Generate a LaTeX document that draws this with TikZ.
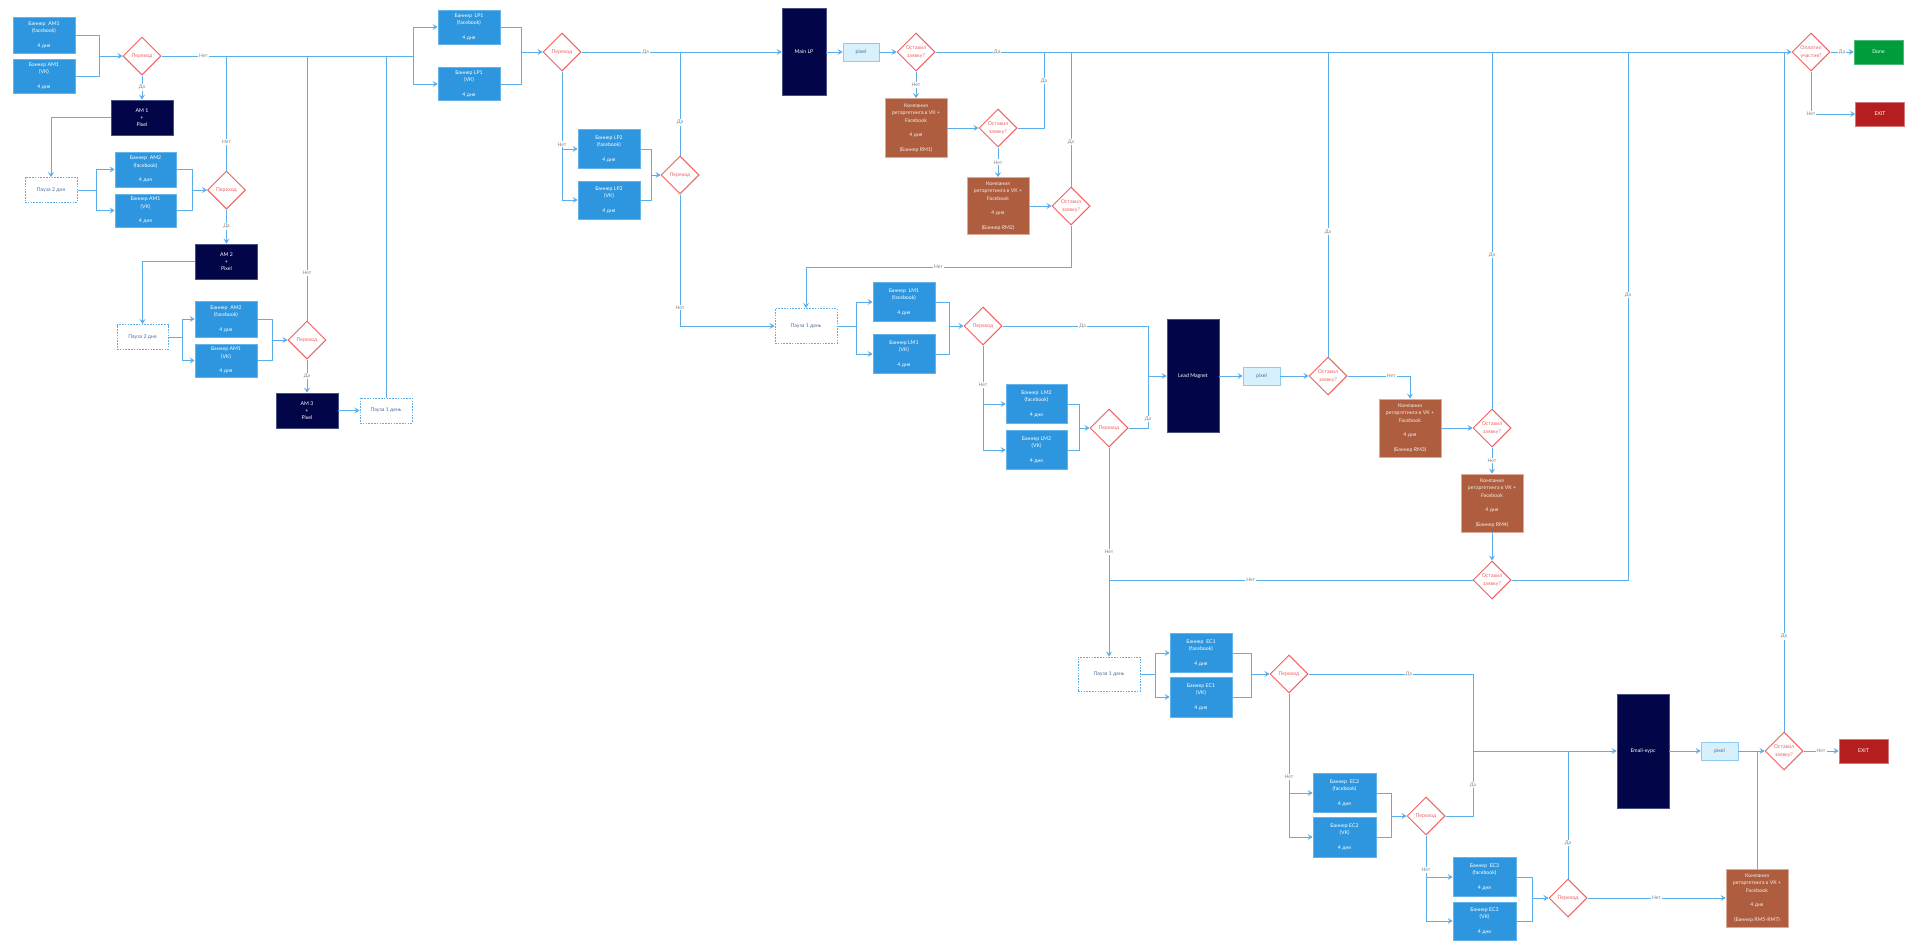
\documentclass[tikz,border=0pt]{standalone}
\usepackage{fontspec}
\setmainfont{Lato}
\usetikzlibrary{shapes.geometric,arrows.meta}
\definecolor{ln}{RGB}{92,174,234}
\definecolor{bnr}{RGB}{45,150,222}
\definecolor{bnrb}{RGB}{100,180,236}
\definecolor{navy}{RGB}{2,6,72}
\definecolor{navyb}{RGB}{70,80,130}
\definecolor{brn}{RGB}{174,94,62}
\definecolor{brnb}{RGB}{220,170,150}
\definecolor{dred}{RGB}{240,96,96}
\definecolor{pixf}{RGB}{216,239,252}
\definecolor{pixb}{RGB}{140,203,242}
\definecolor{pixt}{RGB}{70,110,150}
\definecolor{pauset}{RGB}{80,110,150}
\definecolor{lblgray}{RGB}{130,130,130}
\definecolor{donec}{RGB}{0,155,58}
\definecolor{exitc}{RGB}{180,30,30}
\tikzset{
  box/.style={rectangle, inner sep=1pt, align=center, minimum width=62pt},
  banner/.style={box, fill=bnr, draw=bnrb, line width=0.8pt, text=white},
  dark/.style={box, fill=navy, draw=navyb, line width=0.8pt, text=white},
  rmbox/.style={box, fill=brn, draw=brnb, line width=0.8pt, text=white!88!brn},
  pause/.style={box, draw=ln, dash pattern=on 1.6pt off 1.2pt, line width=1pt, fill=white, text=pauset},
  pix/.style={box, fill=pixf, draw=pixb, line width=0.8pt, text=pixt, minimum width=37pt, minimum height=18pt},
  dec/.style={diamond, draw=dred, line width=1pt, fill=white, text=dred, align=center, minimum width=38pt, minimum height=38pt, inner sep=0pt, aspect=1},
  endbox/.style={box, minimum width=49pt, minimum height=24pt, text=white, line width=0.8pt},
  lbl/.style={fill=white, text=lblgray, inner sep=1pt, font=\fontsize{5}{6}\selectfont},
  conn/.style={draw=ln, line width=1pt},
  arr/.style={conn, -{Stealth[length=5pt,width=6pt,inset=2pt]}}
}
\begin{document}
\begin{tikzpicture}[x=1pt,y=-1pt,font=\fontsize{5.2}{7.3}\selectfont]
\fill[white] (0,0) rectangle (1905,940);
\useasboundingbox (0,0) rectangle (1905,940);

% ---------- AM part ----------
\node[banner, minimum height=36pt] (am1fb) at (44,35) {Баннер~~AM1\\(facebook)\\[7.3pt]4 дня};
\node[banner, minimum height=34pt] (am1vk) at (44,76) {Баннер AM1\\(VK)\\[7.3pt]4 дня};
\node[dec] (d1) at (142,56) {Переход};
\node[dark, minimum height=35pt] (am1) at (142,117.5) {AM 1\\+\\Pixel};
\node[pause, minimum width=52pt, minimum height=25pt] (p1) at (51,190) {Пауза 2 дня};
\node[banner, minimum width=61pt, minimum height=35pt] (am2fb) at (145.5,169.5) {Баннер~~AM2\\(facebook)\\[7.3pt]4 дня};
\node[banner, minimum width=61pt, minimum height=33pt] (am2vk) at (145.5,210.5) {Баннер AM1\\(VK)\\[7.3pt]4 дня};
\node[dec] (d2) at (226.5,190) {Переход};
\node[dark, minimum height=35pt] (am2) at (226.5,261.5) {AM 2\\+\\Pixel};
\node[pause, minimum width=51pt, minimum height=25pt] (p2) at (142.5,337) {Пауза 2 дня};
\node[banner, minimum height=36pt] (am3fb) at (226,319) {Баннер~~AM2\\(facebook)\\[7.3pt]4 дня};
\node[banner, minimum height=33pt] (am3vk) at (226,360.5) {Баннер AM1\\(VK)\\[7.3pt]4 дня};
\node[dec] (d3) at (307,340) {Переход};
\node[dark, minimum height=35pt] (am3) at (307,410.5) {AM 3\\+\\Pixel};
\node[pause, minimum width=52pt, minimum height=25pt] (p3) at (386,410.5) {Пауза 1 день};

% ---------- LP part ----------
\node[banner, minimum height=34pt] (lp1fb) at (469,27) {Баннер~~LP1\\(facebook)\\[7.3pt]4 дня};
\node[banner, minimum height=33pt] (lp1vk) at (469,84) {Баннер LP1\\(VK)\\[7.3pt]4 дня};
\node[dec] (dlp1) at (562,52) {Переход};
\node[banner, minimum height=39pt] (lp2fb) at (609,149) {Баннер LP2\\(facebook)\\[7.3pt]4 дня};
\node[banner, minimum height=38pt] (lp2vk) at (609,200) {Баннер LP2\\(VK)\\[7.3pt]4 дня};
\node[dec] (dlp2) at (680,175) {Переход};
\node[dark, minimum width=44pt, minimum height=87pt] (mainlp) at (804,52) {Main LP};
\node[pix, minimum width=36pt] (px1) at (861,52) {pixel};
\node[dec] (o1) at (916,52) {Оставил\\заявку?};
\node[rmbox, minimum height=59pt] (rm1) at (916,128) {Компания\\ретаргетинга в VK +\\Facebook\\[7.3pt]4 дня\\[7.3pt](Баннер RM1)};
\node[dec] (o2) at (998,128) {Оставил\\заявку?};
\node[rmbox, minimum height=57pt] (rm2) at (998,206) {Компания\\ретаргетинга в VK +\\Facebook\\[7.3pt]4 дня\\[7.3pt](Баннер RM2)};
\node[dec] (o3) at (1071,206) {Оставил\\заявку?};

% ---------- LM part ----------
\node[pause, minimum width=62pt, minimum height=35pt] (plm) at (806,326) {Пауза 1 день};
\node[banner, minimum height=39pt] (lm1fb) at (904,302) {Баннер~~LM1\\(facebook)\\[7.3pt]4 дня};
\node[banner, minimum height=39pt] (lm1vk) at (904,354) {Баннер LM1\\(VK)\\[7.3pt]4 дня};
\node[dec] (dlm1) at (983,326) {Переход};
\node[banner, minimum width=61pt, minimum height=39pt] (lm2fb) at (1036.5,404) {Баннер~~LM2\\(facebook)\\[7.3pt]4 дня};
\node[banner, minimum width=61pt, minimum height=39pt] (lm2vk) at (1036.5,450) {Баннер LM2\\(VK)\\[7.3pt]4 дня};
\node[dec] (dlm2) at (1109,428) {Переход};
\node[dark, minimum width=52pt, minimum height=113pt] (lm) at (1193,376) {Lead Magnet};
\node[pix] (px2) at (1261.5,376) {pixel};
\node[dec] (o4) at (1328,376) {Оставил\\заявку?};
\node[rmbox, minimum height=58pt] (rm3) at (1410,428) {Компания\\ретаргетинга в VK +\\Facebook\\[7.3pt]4 дня\\[7.3pt](Баннер RM3)};
\node[dec] (o5) at (1492,428) {Оставил\\заявку?};
\node[rmbox, minimum height=58pt] (rm4) at (1492,503) {Компания\\ретаргетинга в VK +\\Facebook\\[7.3pt]4 дня\\[7.3pt](Баннер RM4)};
\node[dec] (o6) at (1492,580) {Оставил\\заявку?};

% ---------- final ----------
\node[dec] (dpay) at (1811,52) {Оплатил\\участие?};
\node[endbox, fill=donec, draw=donec!70!white] (done) at (1878.5,52) {Done};
\node[endbox, fill=exitc, draw=exitc!60!white] (exit1) at (1880,114) {EXIT};

% ---------- EC part ----------
\node[pause, minimum width=62pt, minimum height=34pt] (pec) at (1109,674) {Пауза 1 день};
\node[banner, minimum height=39pt] (ec1fb) at (1201,653) {Баннер~~EC1\\(facebook)\\[7.3pt]4 дня};
\node[banner, minimum height=40pt] (ec1vk) at (1201,697) {Баннер EC1\\(VK)\\[7.3pt]4 дня};
\node[dec] (dec1) at (1289,674) {Переход};
\node[banner, minimum width=63pt, minimum height=39pt] (ec2fb) at (1344.5,793) {Баннер~~EC2\\(facebook)\\[7.3pt]4 дня};
\node[banner, minimum width=63pt, minimum height=40pt] (ec2vk) at (1344.5,837) {Баннер EC2\\(VK)\\[7.3pt]4 дня};
\node[dec] (dec2) at (1426,816) {Переход};
\node[banner, minimum width=63pt, minimum height=39pt] (ec3fb) at (1484.5,877) {Баннер~~EC3\\(facebook)\\[7.3pt]4 дня};
\node[banner, minimum width=63pt, minimum height=38pt] (ec3vk) at (1484.5,921) {Баннер EC3\\(VK)\\[7.3pt]4 дня};
\node[dec] (dec3) at (1568,898) {Переход};
\node[rmbox, minimum height=58pt] (rm5) at (1757,898) {Компания\\ретаргетинга в VK +\\Facebook\\[7.3pt]4 дня\\[7.3pt](Баннер RM5-RM7)};
\node[dark, minimum width=52pt, minimum height=114pt] (email) at (1643,751) {Email-курс};
\node[pix] (px3) at (1719.5,751) {pixel};
\node[dec] (o7) at (1784,751) {Оставил\\заявку?};
\node[endbox, fill=exitc, draw=exitc!60!white] (exit2) at (1863.5,751) {EXIT};

% ---------- junctions ----------
\coordinate (j1) at (99,56);
\coordinate (s1) at (413,56);
\coordinate (j2) at (96,190);
\coordinate (j3) at (192,190);
\coordinate (j4) at (182,337);
\coordinate (j5) at (272,340);
\coordinate (j6) at (521,52);
\coordinate (j7) at (651,175);
\coordinate (k1) at (1044,52);
\coordinate (k2) at (1071,267);
\coordinate (j8) at (856,326);
\coordinate (j9) at (949,326);
\coordinate (k3) at (1148,326);
\coordinate (j10) at (1079,428);
\coordinate (k5) at (1628,52);
\coordinate (j11) at (1155,674);
\coordinate (j12) at (1251,674);
\coordinate (k6) at (1473,751);
\coordinate (j13) at (1391,816);
\coordinate (j14) at (1532,898);

% ---------- AM connectors ----------
\draw[conn] (am1fb.east) -| (j1);
\draw[conn] (am1vk.east) -| (j1);
\draw[arr] (j1) -- (d1.west);
\draw[arr] (d1.south) -- node[lbl]{Да} (am1.north);
\draw[conn] (d1.east) -- node[lbl,pos=0.167]{Нет} (s1);
\draw[arr] (s1) |- (lp1fb.west);
\draw[arr] (s1) |- (lp1vk.west);
\draw[arr] (am1.west) -| (p1.north);
\draw[conn] (p1.east) -- (j2);
\draw[arr] (j2) |- (am2fb.west);
\draw[arr] (j2) |- (am2vk.west);
\draw[conn] (am2fb.east) -| (j3);
\draw[conn] (am2vk.east) -| (j3);
\draw[arr] (j3) -- (d2.west);
\draw[conn] (d2.north) -- node[lbl,pos=0.25]{Нет} (d2.north |- s1);
\draw[arr] (d2.south) -- node[lbl]{Да} (am2.north);
\draw[arr] (am2.west) -| (p2.north);
\draw[conn] (p2.east) -- (j4);
\draw[arr] (j4) |- (am3fb.west);
\draw[arr] (j4) |- (am3vk.west);
\draw[conn] (am3fb.east) -| (j5);
\draw[conn] (am3vk.east) -| (j5);
\draw[arr] (j5) -- (d3.west);
\draw[conn] (d3.north) -- node[lbl,pos=0.18]{Нет} (d3.north |- s1);
\draw[arr] (d3.south) -- node[lbl]{Да} (am3.north);
\draw[arr] (am3.east) -- (p3.west);
\draw[conn] (p3.north) -- (p3.north |- s1);

% ---------- LP connectors ----------
\draw[conn] (lp1fb.east) -| (j6);
\draw[conn] (lp1vk.east) -| (j6);
\draw[arr] (j6) -- (dlp1.west);
\draw[arr] (dlp1.east) -- node[lbl,pos=0.32]{Да} (mainlp.west);
\draw[arr] (dlp1.south) |- (lp2fb.west);
\draw[arr] (dlp1.south) |- node[lbl,pos=0.283]{Нет} (lp2vk.west);
\draw[conn] (lp2fb.east) -| (j7);
\draw[conn] (lp2vk.east) -| (j7);
\draw[arr] (j7) -- (dlp2.west);
\draw[conn] (dlp2.north) -- node[lbl,pos=0.32]{Да} (dlp2.north |- dlp1.east);
\draw[arr] (dlp2.south) |- node[lbl,pos=0.43]{Нет} (plm.west);
\draw[arr] (mainlp.east) -- (px1.west);
\draw[arr] (px1.east) -- (o1.west);
\draw[arr] (o1.east) -- node[lbl,pos=0.072]{Да} (dpay.west);
\draw[arr] (o1.south) -- node[lbl]{Нет} (rm1.north);
\draw[arr] (rm1.east) -- (o2.west);
\draw[conn] (o2.east) -| node[lbl,pos=0.81]{Да} (k1);
\draw[arr] (o2.south) -- node[lbl]{Нет} (rm2.north);
\draw[arr] (rm2.east) -- (o3.west);
\draw[conn] (o3.north) -- node[lbl,pos=0.33]{Да} (o3.north |- o1.east);
\draw[arr] (o3.south) -- (k2) -| node[lbl,pos=0.25]{Нет} (plm.north);

% ---------- LM connectors ----------
\draw[conn] (plm.east) -- (j8);
\draw[arr] (j8) |- (lm1fb.west);
\draw[arr] (j8) |- (lm1vk.west);
\draw[conn] (lm1fb.east) -| (j9);
\draw[conn] (lm1vk.east) -| (j9);
\draw[arr] (j9) -- (dlm1.west);
\draw[arr] (dlm1.east) -- node[lbl,pos=0.55]{Да} (k3) |- (lm.west);
\draw[arr] (dlm1.south) |- (lm2fb.west);
\draw[arr] (dlm1.south) |- node[lbl,pos=0.19]{Нет} (lm2vk.west);
\draw[conn] (lm2fb.east) -| (j10);
\draw[conn] (lm2vk.east) -| (j10);
\draw[arr] (j10) -- (dlm2.west);
\draw[conn] (dlm2.east) -| node[lbl,pos=0.544]{Да} (k3);
\draw[arr] (dlm2.south) -- node[lbl,pos=0.5]{Нет} (pec.north);
\draw[arr] (lm.east) -- (px2.west);
\draw[arr] (px2.east) -- (o4.west);
\draw[conn] (o4.north) -- node[lbl,pos=0.41]{Да} (o4.north |- o1.east);
\draw[arr] (o4.east) -| node[lbl,pos=0.35]{Нет} (rm3.north);
\draw[arr] (rm3.east) -- (o5.west);
\draw[conn] (o5.north) -- node[lbl,pos=0.43]{Да} (o5.north |- o1.east);
\draw[arr] (o5.south) -- node[lbl]{Нет} (rm4.north);
\draw[arr] (rm4.south) -- (o6.north);
\draw[conn] (o6.west) -- node[lbl,pos=0.61]{Нет} (o6.west -| dlm2.south);
\draw[conn] (o6.east) -| node[lbl,pos=0.77]{Да} (k5);

% ---------- final connectors ----------
\draw[arr] (dpay.east) -- node[lbl]{Да} (done.west);
\draw[arr] (dpay.south) |- node[lbl,pos=0.5]{Нет} (exit1.west);

% ---------- EC connectors ----------
\draw[conn] (pec.east) -- (j11);
\draw[arr] (j11) |- (ec1fb.west);
\draw[arr] (j11) |- (ec1vk.west);
\draw[conn] (ec1fb.east) -| (j12);
\draw[conn] (ec1vk.east) -| (j12);
\draw[arr] (j12) -- (dec1.west);
\draw[conn] (dec1.east) -| node[lbl,pos=0.305]{Да} (k6);
\draw[arr] (k6) -- (email.west);
\draw[arr] (dec1.south) |- (ec2fb.west);
\draw[arr] (dec1.south) |- node[lbl,pos=0.29]{Нет} (ec2vk.west);
\draw[conn] (ec2fb.east) -| (j13);
\draw[conn] (ec2vk.east) -| (j13);
\draw[arr] (j13) -- (dec2.west);
\draw[conn] (dec2.east) -| node[lbl,pos=0.74]{Да} (k6);
\draw[arr] (dec2.south) |- (ec3fb.west);
\draw[arr] (dec2.south) |- node[lbl,pos=0.2]{Нет} (ec3vk.west);
\draw[conn] (ec3fb.east) -| (j14);
\draw[conn] (ec3vk.east) -| (j14);
\draw[arr] (j14) -- (dec3.west);
\draw[conn] (dec3.north) -- node[lbl,pos=0.28]{Да} (dec3.north |- k6);
\draw[arr] (dec3.east) -- node[lbl]{Нет} (rm5.west);
\draw[arr] (email.east) -- (px3.west);
\draw[arr] (px3.east) -- (o7.west);
\draw[conn] (rm5.north) -- (rm5.north |- o7.west);
\draw[conn] (o7.north) -- node[lbl,pos=0.14]{Да} (o7.north |- o1.east);
\draw[arr] (o7.east) -- node[lbl]{Нет} (exit2.west);
\end{tikzpicture}
\end{document}
